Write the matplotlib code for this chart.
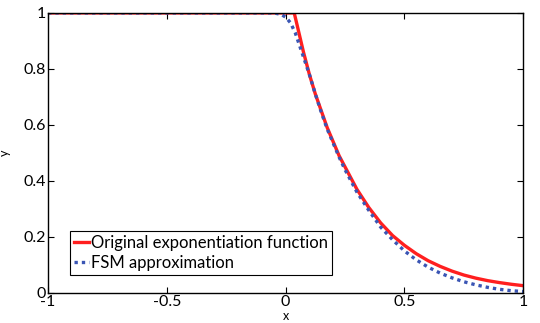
import matplotlib
matplotlib.use("Agg")
import matplotlib.pyplot as plt

plt.rcParams['font.family'] = ['Lato', 'DejaVu Sans']

# curves
x_orig = [-1.0, -0.5, 0.0, 0.036, 0.05, 0.075, 0.1, 0.125, 0.15, 0.175, 0.2, 0.225,
          0.25, 0.3, 0.35, 0.4, 0.45, 0.5, 0.55, 0.6, 0.65, 0.7, 0.75, 0.8, 0.85,
          0.9, 0.95, 1.0]
y_orig = [1.0, 1.0, 1.0, 1.0, 0.95, 0.86, 0.78, 0.71, 0.65, 0.59, 0.54, 0.49,
          0.45, 0.37, 0.305, 0.25, 0.205, 0.17, 0.14, 0.115, 0.095, 0.078, 0.064,
          0.053, 0.044, 0.037, 0.031, 0.026]

x_fsm = [-1.0, -0.5, -0.05, -0.02, 0.0, 0.02, 0.04, 0.06, 0.08, 0.1, 0.125, 0.15,
         0.175, 0.2, 0.225, 0.25, 0.3, 0.35, 0.4, 0.45, 0.5, 0.55, 0.6, 0.65, 0.7,
         0.75, 0.8, 0.85, 0.9, 0.95, 1.0]
y_fsm = [1.0, 1.0, 1.0, 0.995, 0.985, 0.965, 0.93, 0.88, 0.83, 0.78, 0.71, 0.645,
         0.585, 0.535, 0.485, 0.44, 0.36, 0.295, 0.235, 0.19, 0.15, 0.118, 0.092,
         0.071, 0.054, 0.04, 0.029, 0.02, 0.013, 0.008, 0.005]

x_ticks = [-1, -0.5, 0, 0.5, 1]
x_labels = ['-1', '-0.5', '0', '0.5', '1']
y_ticks = [0, 0.2, 0.4, 0.6, 0.8, 1]
y_labels = ['0', '0.2', '0.4', '0.6', '0.8', '1']

fig = plt.figure(figsize=(5.4, 3.23), dpi=100)
ax = fig.add_axes([0.089, 0.093, 0.88, 0.867])

ax.plot(x_orig, y_orig, color='#ff1f1f', lw=2.4, label='Original exponentiation function')
ax.plot(x_fsm, y_fsm, color='#3a55b4', lw=2.4, ls=(0, (1, 1.2)), label='FSM approximation')

ax.set_xlim(-1, 1)
ax.set_ylim(0, 1)
ax.set_xticks(x_ticks)
ax.set_xticklabels(x_labels)
ax.set_yticks(y_ticks)
ax.set_yticklabels(y_labels)
ax.tick_params(direction='in', length=4, width=0.8, labelsize=11.5, pad=1.5,
               top=True, right=True)
for s in ax.spines.values():
    s.set_linewidth(1.0)

ax.set_xlabel('x', fontsize=9, labelpad=1)
ax.set_ylabel('y', fontsize=9, labelpad=9)

leg = ax.legend(loc='lower left', bbox_to_anchor=(0.046, 0.065), borderaxespad=0,
                fontsize=12, handlelength=0.9, handletextpad=0.1,
                borderpad=0.25, labelspacing=0.2, fancybox=False, framealpha=1)
leg.get_frame().set_edgecolor('black')
leg.get_frame().set_linewidth(0.8)

fig.savefig('out.png', dpi=100)
